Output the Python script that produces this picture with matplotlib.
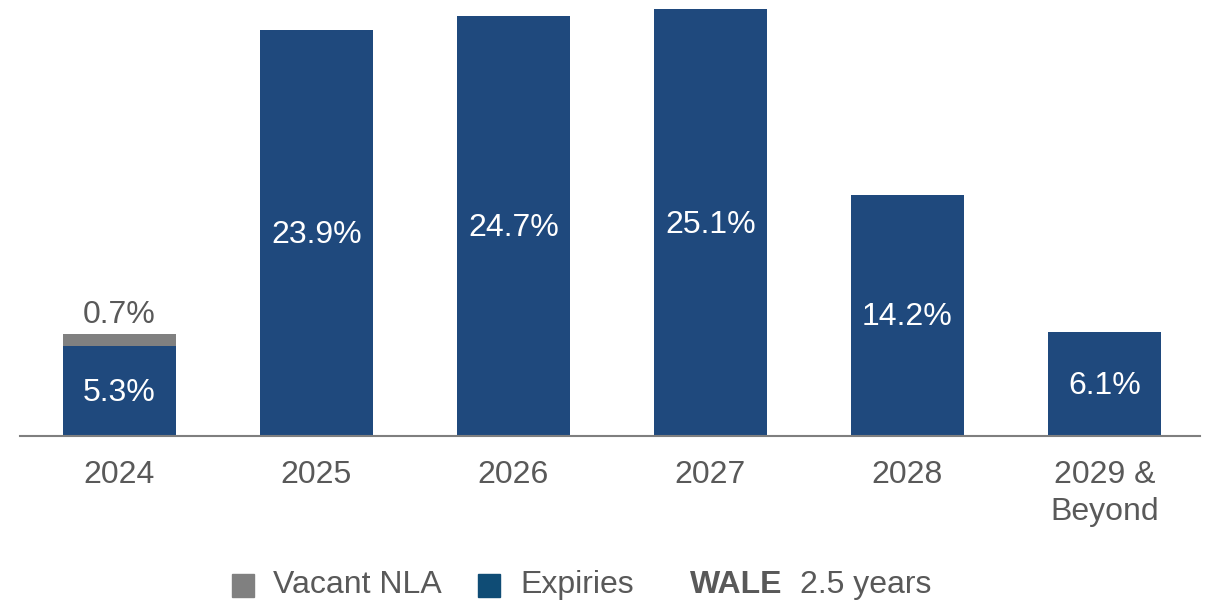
import matplotlib
matplotlib.use("Agg")
import matplotlib.pyplot as plt
import matplotlib.patches as mpatch

plt.rcParams['font.family'] = ['Liberation Sans', 'DejaVu Sans']

years = ["2024", "2025", "2026", "2027", "2028", "2029 &\nBeyond"]
expiries = [5.3, 23.9, 24.7, 25.1, 14.2, 6.1]
vacant = [0.7, 0, 0, 0, 0, 0]

navy = "#1f497d"
grey = "#808080"
txt = "#595959"
fs = 23

fig = plt.figure(figsize=(12.13, 6.02), dpi=100)
ax = fig.add_axes([20/1213, 1 - 436/602, 1180/1213, 436/602])

x = list(range(len(years)))
ax.bar(x, expiries, 0.574, color=navy, zorder=2)
ax.bar(x, vacant, 0.574, bottom=expiries, color=grey, zorder=2)

for i, v in enumerate(expiries):
    ax.text(i, v/2 - 0.12, "%.1f%%" % v, ha="center", va="center", color="white", fontsize=fs)
for i, v in enumerate(vacant):
    if v > 0:
        ax.text(i, expiries[i] + v + 1.1, "%.1f%%" % v, ha="center", va="center", color=txt, fontsize=fs)

ax.set_xlim(-0.505, 5.485)
ax.set_ylim(0, 25.65)
ax.set_xticks(x)
ax.set_xticklabels(years, fontsize=fs, color=txt, linespacing=1.3)
ax.tick_params(axis='x', length=0, pad=17)
ax.set_yticks([])
for s in ["top", "right", "left"]:
    ax.spines[s].set_visible(False)
ax.spines["bottom"].set_color("#7f7f7f")
ax.spines["bottom"].set_linewidth(1.5)

# legend drawn by hand
ly = 1 - 585/602
sq_w, sq_h = 22/1213, 23/602
fig.patches.append(mpatch.Rectangle((232/1213, ly - sq_h/2), sq_w, sq_h,
                                    transform=fig.transFigure, color=grey))
fig.text(273/1213, ly, "Vacant NLA", ha="left", va="center", fontsize=fs, color=txt)
fig.patches.append(mpatch.Rectangle((478/1213, ly - sq_h/2), sq_w, sq_h,
                                    transform=fig.transFigure, color="#0f4c75"))
fig.text(520/1213, ly, "Expiries", ha="left", va="center", fontsize=fs, color=txt)
fig.text(690/1213, ly, "WALE", ha="left", va="center", fontsize=fs, color=txt, fontweight="bold")
fig.text(800/1213, ly, "2.5 years", ha="left", va="center", fontsize=fs, color=txt)

fig.savefig("out.png", dpi=100)
